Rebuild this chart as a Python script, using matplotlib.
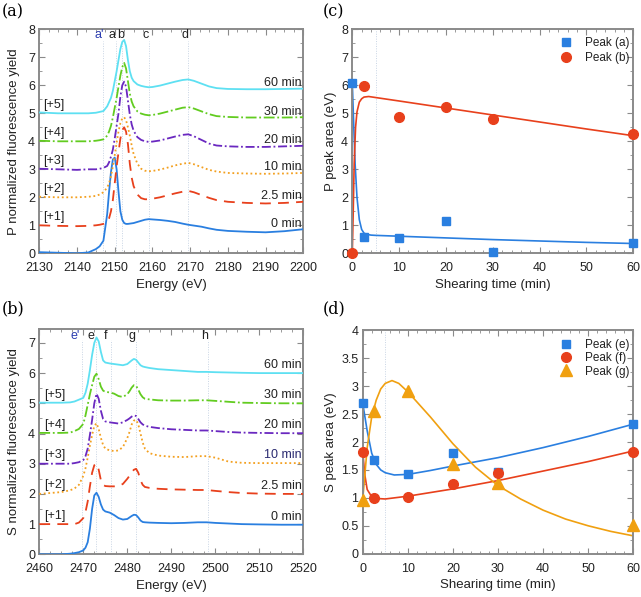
import numpy as np
import matplotlib
matplotlib.use("Agg")
import matplotlib.pyplot as plt
from matplotlib.ticker import MultipleLocator, AutoMinorLocator

plt.rcParams["font.family"] = ["Liberation Sans", "DejaVu Sans"]

# ── data: P K-edge spectra (panel a) ─────────────────────────────────────────
E_P = [2130, 2135, 2140, 2143, 2145, 2146, 2147, 2148, 2148.5, 2149, 2149.5, 2150,
       2150.5, 2151, 2151.5, 2152, 2152.5, 2153, 2153.5, 2154, 2154.5, 2155, 2156,
       2157, 2158, 2159, 2160, 2162, 2164, 2166, 2168, 2169.5, 2171, 2173, 2175,
       2177, 2180, 2185, 2190, 2195, 2200]
P_0 = [0.04, 0.02, 0.0, 0.03, 0.15, 0.25, 0.45, 1.4, 2.2, 2.9, 3.35, 3.42,
       3.0, 2.2, 1.5, 1.2, 1.08, 1.05, 1.05, 1.06, 1.07, 1.08, 1.12,
       1.16, 1.2, 1.22, 1.21, 1.19, 1.16, 1.12, 1.06, 1.02, 0.99, 0.95, 0.89,
       0.84, 0.8, 0.77, 0.75, 0.79, 0.86]
P_2_5 = [1.0, 0.98, 0.97, 0.98, 1.0, 1.02, 1.05, 1.12, 1.25, 1.5, 1.9, 2.5,
         3.1, 3.6, 4.1, 4.4, 4.5, 4.35, 3.9, 3.2, 2.7, 2.4, 2.1,
         1.97, 1.93, 1.93, 1.95, 2.0, 2.07, 2.14, 2.2, 2.23, 2.18, 2.08, 1.98,
         1.9, 1.84, 1.8, 1.78, 1.8, 1.84]
P_10 = [2.02, 2.0, 2.0, 2.02, 2.05, 2.1, 2.18, 2.35, 2.5, 2.75, 3.1, 3.5,
        3.95, 4.35, 4.65, 4.82, 4.86, 4.75, 4.5, 4.2, 3.85, 3.55, 3.2,
        3.02, 2.95, 2.93, 2.94, 2.99, 3.06, 3.14, 3.2, 3.23, 3.18, 3.08, 2.98,
        2.92, 2.87, 2.85, 2.84, 2.85, 2.87]
P_20 = [3.02, 3.0, 2.98, 3.0, 3.0, 3.02, 3.05, 3.12, 3.25, 3.45, 3.7, 4.1,
        4.55, 5.0, 5.6, 6.0, 6.13, 5.95, 5.45, 4.95, 4.6, 4.38, 4.15,
        4.05, 4.0, 3.98, 3.99, 4.03, 4.1, 4.17, 4.23, 4.25, 4.18, 4.05, 3.92,
        3.85, 3.82, 3.8, 3.8, 3.82, 3.84]
P_30 = [4.02, 4.0, 4.0, 4.0, 4.02, 4.04, 4.07, 4.2, 4.35, 4.55, 4.85, 5.2,
        5.55, 5.95, 6.35, 6.65, 6.8, 6.6, 6.15, 5.7, 5.42, 5.25, 5.07,
        4.99, 4.95, 4.93, 4.94, 4.99, 5.06, 5.13, 5.2, 5.22, 5.17, 5.07, 4.97,
        4.9, 4.87, 4.85, 4.85, 4.85, 4.86]
P_60 = [5.03, 5.0, 5.0, 5.0, 5.02, 5.05, 5.08, 5.25, 5.4, 5.55, 5.8, 6.15,
        6.5, 6.9, 7.3, 7.55, 7.62, 7.4, 6.9, 6.5, 6.27, 6.15, 6.03,
        5.98, 5.95, 5.93, 5.94, 5.99, 6.06, 6.13, 6.19, 6.21, 6.16, 6.06, 5.96,
        5.9, 5.87, 5.86, 5.86, 5.87, 5.88]

# ── data: S K-edge spectra (panel b) ─────────────────────────────────────────
E_S = [2460, 2465, 2467, 2468, 2469, 2470, 2470.5, 2471, 2471.5, 2472, 2472.5,
       2473, 2473.5, 2474, 2474.5, 2475, 2476, 2477, 2478, 2479, 2480, 2480.5,
       2481, 2481.5, 2482, 2482.5, 2483, 2483.5, 2484, 2485, 2487, 2490, 2493,
       2496, 2498, 2500, 2503, 2506, 2510, 2515, 2520]
S_0 = [0.0, 0.0, 0.02, 0.04, 0.07, 0.13, 0.22, 0.4, 0.85, 1.5, 1.95,
       2.04, 1.9, 1.65, 1.48, 1.42, 1.38, 1.3, 1.2, 1.15, 1.17, 1.22,
       1.27, 1.31, 1.3, 1.22, 1.12, 1.07, 1.06, 1.05, 1.04, 1.03, 1.04,
       1.06, 1.06, 1.04, 1.02, 1.0, 0.99, 0.98, 0.98]
S_2_5 = [1.0, 1.0, 1.0, 1.0, 1.05, 1.2, 1.4, 1.75, 2.25, 2.7, 2.95,
         3.0, 2.8, 2.45, 2.3, 2.26, 2.25, 2.25, 2.26, 2.33, 2.5, 2.6,
         2.72, 2.8, 2.83, 2.7, 2.45, 2.3, 2.23, 2.2, 2.17, 2.15, 2.14,
         2.13, 2.13, 2.1, 2.06, 2.03, 2.01, 2.0, 2.0]
S_10 = [2.0, 2.06, 2.12, 2.18, 2.3, 2.6, 2.85, 3.2, 3.6, 3.95, 4.25,
        4.34, 4.15, 3.85, 3.62, 3.5, 3.44, 3.42, 3.44, 3.55, 3.85, 4.05,
        4.3, 4.43, 4.45, 4.3, 4.0, 3.7, 3.5, 3.35, 3.27, 3.23, 3.22,
        3.25, 3.25, 3.2, 3.07, 3.03, 3.02, 3.02, 3.02]
S_20 = [3.0, 3.0, 3.0, 3.02, 3.05, 3.12, 3.25, 3.5, 3.95, 4.45, 5.0,
        5.32, 5.15, 4.75, 4.48, 4.4, 4.37, 4.35, 4.33, 4.37, 4.45, 4.5,
        4.56, 4.6, 4.58, 4.48, 4.37, 4.3, 4.26, 4.22, 4.18, 4.14, 4.12,
        4.1, 4.1, 4.08, 4.05, 4.03, 4.02, 4.01, 4.01]
S_30 = [4.02, 4.02, 4.03, 4.08, 4.15, 4.32, 4.6, 4.95, 5.3, 5.6, 5.88,
        5.98, 5.8, 5.55, 5.42, 5.38, 5.36, 5.32, 5.24, 5.21, 5.3, 5.4,
        5.52, 5.6, 5.58, 5.45, 5.3, 5.2, 5.15, 5.13, 5.1, 5.09, 5.09,
        5.1, 5.1, 5.08, 5.05, 5.02, 5.01, 5.0, 5.0]
S_60 = [5.02, 5.02, 5.03, 5.06, 5.12, 5.18, 5.35, 5.65, 6.1, 6.6, 7.0,
        7.18, 7.05, 6.7, 6.42, 6.35, 6.32, 6.3, 6.28, 6.26, 6.3, 6.36,
        6.42, 6.47, 6.44, 6.35, 6.26, 6.22, 6.2, 6.17, 6.13, 6.1, 6.07,
        6.04, 6.04, 6.03, 6.02, 6.01, 6.0, 6.0, 6.0]

times = ["0 min", "2.5 min", "10 min", "20 min", "30 min", "60 min"]
offsets = ["[+1]", "[+2]", "[+3]", "[+4]", "[+5]"]

# peak marker lines and where their letters sit
peaks_P = ["a'", "a", "b", "c", "d"]
peaks_P_E = [2147.0, 2150.3, 2152.0, 2159.1, 2169.5]
peaks_P_lbl = [2145.8, 2149.2, 2151.7, 2158.2, 2168.6]
peaks_S = ["e'", "e", "f", "g", "h"]
peaks_S_E = [2469.6, 2473.0, 2476.2, 2482.0, 2498.3]
peaks_S_lbl = [2468.1, 2471.7, 2475.1, 2481.0, 2497.5]

# ── data: peak areas (panels c, d) ───────────────────────────────────────────
t_pts = [0, 2.5, 10, 20, 30, 60]
area_a = [6.1, 0.57, 0.56, 1.14, 0.06, 0.37]
area_b = [0.0, 5.97, 4.88, 5.23, 4.8, 4.26]
fit_t_a = [0, 0.3, 0.6, 1.0, 1.5, 2.0, 2.5, 3, 4, 5, 10, 20, 30, 40, 50, 60]
fit_a = [6.1, 4.6, 3.2, 2.0, 1.2, 0.85, 0.72, 0.68, 0.65, 0.64, 0.61, 0.55,
         0.49, 0.44, 0.39, 0.35]
fit_t_b = [0, 0.2, 0.4, 0.7, 1.0, 1.5, 2.0, 2.5, 3.5, 10, 20, 30, 40, 50, 60]
fit_b = [0, 1.5, 3.2, 4.5, 5.05, 5.4, 5.52, 5.58, 5.6, 5.44, 5.19, 4.94,
         4.69, 4.44, 4.2]

area_e = [2.7, 1.68, 1.42, 1.81, 1.47, 2.32]
area_f = [1.83, 0.99, 1.01, 1.25, 1.44, 1.82]
area_g = [0.96, 2.55, 2.92, 1.6, 1.27, 0.52]
fit_t_e = [0, 0.5, 1, 2, 3, 4, 5, 7, 10, 15, 20, 30, 40, 50, 60]
fit_e = [2.7, 2.45, 2.2, 1.8, 1.6, 1.5, 1.45, 1.41, 1.42, 1.49, 1.57, 1.72,
         1.9, 2.1, 2.32]
fit_t_f = [0, 0.5, 1, 2, 3, 5, 10, 20, 30, 40, 50, 60]
fit_f = [1.83, 1.4, 1.15, 1.02, 0.99, 0.98, 1.03, 1.16, 1.31, 1.48, 1.65, 1.84]
fit_t_g = [0, 1, 2, 3, 4, 5, 6.5, 8, 10, 15, 20, 25, 30, 35, 40, 45, 50, 55, 60]
fit_g = [0.96, 1.9, 2.45, 2.75, 2.95, 3.05, 3.1, 3.05, 2.9, 2.45, 1.97, 1.55,
         1.22, 0.98, 0.78, 0.62, 0.5, 0.4, 0.32]

# ── style ────────────────────────────────────────────────────────────────────
BLUE = "#2a7fe0"
RED = "#e8401c"
ORANGE = "#f0a010"
SPEC_COLORS = ["#2a7fe0", "#e8401c", "#f3a020", "#6a28c0", "#62cc20", "#5ee0f2"]
SPEC_STYLES = ["-", (0, (6, 4)), (0, (1, 1.5)), (0, (5, 1.5, 1, 1.5)),
               (0, (6, 1.5, 1, 1.5)), "-"]
GRID = "#c8d4e4"
SPINE = "#8a8a8a"
TXT = "#222222"
FS = 9

fig = plt.figure(figsize=(6.41, 5.97), dpi=100)
ax_a = fig.add_axes([0.0613, 0.5757, 0.4119, 0.3752])
ax_c = fig.add_axes([0.5496, 0.5757, 0.4384, 0.3752])
ax_b = fig.add_axes([0.0613, 0.0715, 0.4119, 0.3769])
ax_d = fig.add_axes([0.5658, 0.0725, 0.4222, 0.3742])


def style_ax(ax, xminor, yminor):
    for sp in ax.spines.values():
        sp.set_color(SPINE)
        sp.set_linewidth(1.4)
    ax.tick_params(which="both", direction="in", top=True, right=True,
                   colors=SPINE, labelcolor=TXT, labelsize=FS)
    ax.tick_params(which="major", length=4, width=0.8)
    ax.tick_params(which="minor", length=2, width=0.6)
    ax.tick_params(axis="x", pad=6.5)
    ax.tick_params(axis="y", pad=3)
    ax.xaxis.set_minor_locator(AutoMinorLocator(xminor))
    ax.yaxis.set_minor_locator(AutoMinorLocator(yminor))


# ── panel (a) ────────────────────────────────────────────────────────────────
P_specs = [P_0, P_2_5, P_10, P_20, P_30, P_60]
for E in peaks_P_E:
    ax_a.plot([E, E], [0, 7.6], color=GRID, lw=0.7, ls=(0, (1, 1.5)), zorder=1)
for i, y in enumerate(P_specs):
    ax_a.plot(E_P, y, color=SPEC_COLORS[i], ls=SPEC_STYLES[i], lw=1.3, zorder=3)
    ax_a.text(2199.5, y[-1] + 0.2, times[i], ha="right", va="center",
              fontsize=FS, color=TXT)
for i, lbl in enumerate(offsets):
    ax_a.text(2131, i + 1.3, lbl, ha="left", va="center", fontsize=FS, color=TXT)
for E, lbl in zip(peaks_P_lbl, peaks_P):
    ax_a.text(E, 7.81, lbl, ha="center", va="center", fontsize=FS,
              color="#2a3cb0" if "'" in lbl else TXT)
ax_a.set_xlim(2130, 2200)
ax_a.set_ylim(0, 8)
ax_a.xaxis.set_major_locator(MultipleLocator(10))
ax_a.yaxis.set_major_locator(MultipleLocator(1))
style_ax(ax_a, 4, 2)
ax_a.set_xlabel("Energy (eV)", fontsize=9.5, color=TXT, labelpad=3)
ax_a.set_ylabel("P normalized fluorescence yield", fontsize=9.5, color=TXT, labelpad=5.5)

# ── panel (b) ────────────────────────────────────────────────────────────────
S_specs = [S_0, S_2_5, S_10, S_20, S_30, S_60]
for E in peaks_S_E:
    ax_b.plot([E, E], [0, 7.1], color=GRID, lw=0.7, ls=(0, (1, 1.5)), zorder=1)
for i, y in enumerate(S_specs):
    ax_b.plot(E_S, y, color=SPEC_COLORS[i], ls=SPEC_STYLES[i], lw=1.3, zorder=3)
    ax_b.text(2519.6, y[-1] + 0.26, times[i], ha="right", va="center",
              fontsize=FS, color="#2a2a70" if times[i] == "10 min" else TXT)
for i, lbl in enumerate(offsets):
    ax_b.text(2461, i + 1.28, lbl, ha="left", va="center", fontsize=FS, color=TXT)
for E, lbl in zip(peaks_S_lbl, peaks_S):
    ax_b.text(E, 7.24, lbl, ha="center", va="center", fontsize=FS,
              color="#2a3cb0" if "'" in lbl else TXT)
ax_b.set_xlim(2460, 2520)
ax_b.set_ylim(0, 7.45)
ax_b.xaxis.set_major_locator(MultipleLocator(10))
ax_b.yaxis.set_major_locator(MultipleLocator(1))
style_ax(ax_b, 4, 2)
ax_b.set_xlabel("Energy (eV)", fontsize=9.5, color=TXT, labelpad=3)
ax_b.set_ylabel("S normalized fluorescence yield", fontsize=9.5, color=TXT, labelpad=5.5)

# ── panel (c) ────────────────────────────────────────────────────────────────
ax_c.axvline(5, color=GRID, lw=0.7, ls=(0, (1, 1.5)), zorder=1)
ax_c.plot(fit_t_a, fit_a, color=BLUE, lw=1.2, zorder=2)
ax_c.plot(fit_t_b, fit_b, color=RED, lw=1.2, zorder=2)
ax_c.plot(t_pts, area_a, "s", color=BLUE, ms=5.5, clip_on=False, zorder=4,
          label="Peak (a)")
ax_c.plot(t_pts, area_b, "o", color=RED, ms=7, clip_on=False, zorder=4,
          label="Peak (b)")
ax_c.set_xlim(0, 60)
ax_c.set_ylim(0, 8)
ax_c.xaxis.set_major_locator(MultipleLocator(10))
ax_c.yaxis.set_major_locator(MultipleLocator(1))
style_ax(ax_c, 5, 2)
ax_c.set_xlabel("Shearing time (min)", fontsize=9.5, color=TXT, labelpad=3)
ax_c.set_ylabel("P peak area (eV)", fontsize=9.5, color=TXT, labelpad=3)
ax_c.legend(loc="upper right", frameon=False, fontsize=8.5, handletextpad=0.6,
            labelspacing=0.25, borderpad=0, borderaxespad=0, labelcolor=TXT,
            bbox_to_anchor=(0.985, 0.965))

# ── panel (d) ────────────────────────────────────────────────────────────────
ax_d.axvline(5, color=GRID, lw=0.7, ls=(0, (1, 1.5)), zorder=1)
ax_d.plot(fit_t_e, fit_e, color=BLUE, lw=1.2, zorder=2)
ax_d.plot(fit_t_f, fit_f, color=RED, lw=1.2, zorder=2)
ax_d.plot(fit_t_g, fit_g, color=ORANGE, lw=1.2, zorder=2)
ax_d.plot(t_pts, area_e, "s", color=BLUE, ms=5.5, clip_on=False, zorder=4,
          label="Peak (e)")
ax_d.plot(t_pts, area_f, "o", color=RED, ms=7, clip_on=False, zorder=5,
          label="Peak (f)")
ax_d.plot(t_pts, area_g, "^", color=ORANGE, ms=8, clip_on=False, zorder=4,
          label="Peak (g)")
ax_d.set_xlim(0, 60)
ax_d.set_ylim(0, 4)
ax_d.xaxis.set_major_locator(MultipleLocator(10))
ax_d.yaxis.set_major_locator(MultipleLocator(0.5))
ax_d.yaxis.set_major_formatter(plt.FuncFormatter(lambda v, p: f"{v:g}"))
style_ax(ax_d, 5, 2)
ax_d.set_xlabel("Shearing time (min)", fontsize=9.5, color=TXT, labelpad=3)
ax_d.set_ylabel("S peak area (eV)", fontsize=9.5, color=TXT, labelpad=3)
ax_d.legend(loc="upper right", frameon=False, fontsize=8.5, handletextpad=0.6,
            labelspacing=0.1, borderpad=0, borderaxespad=0, labelcolor=TXT,
            bbox_to_anchor=(0.985, 0.96))

# panel labels
for x, y, t in [(0.003, 0.995, "(a)"), (0.503, 0.995, "(c)"),
                (0.003, 0.497, "(b)"), (0.503, 0.497, "(d)")]:
    fig.text(x, y, t, ha="left", va="top", fontsize=11.5, family="DejaVu Serif")

fig.savefig("out.png", dpi=100)
